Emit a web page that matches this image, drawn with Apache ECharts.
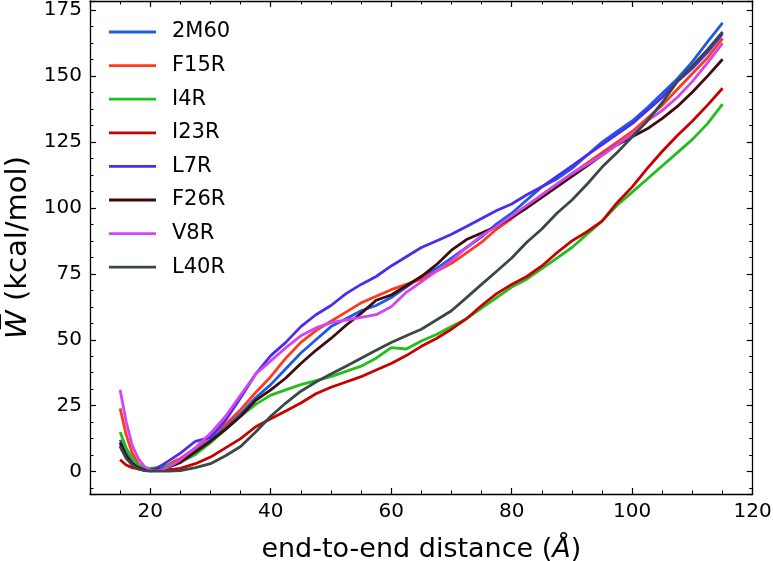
<!DOCTYPE html>
<html>
<head>
<meta charset="utf-8">
<script src="https://cdn.jsdelivr.net/npm/echarts@6/dist/echarts.min.js"></script>
<style>
html,body{margin:0;padding:0;background:#fff;}
#chart{width:773px;height:561px;}
</style>
</head>
<body>
<div id="chart"></div>
<script>
// shared x grid (end-to-end distance, Å)
const distance = [15,16,17,18,19,20,21,22,23,24,25,27.5,30,32.5,35,37.5,40,42.5,45,47.5,50,52.5,55,57.5,60,62.5,65,67.5,70,72.5,75,77.5,80,82.5,85,87.5,90,92.5,95,97.5,100,102.5,105,107.5,110,112.5,115];

const seriesNames = ['2M60','F15R','I4R','I23R','L7R','F26R','V8R','L40R'];
const seriesColors = ['#1f5ae2','#ff3b1c','#22bf1c','#c80000','#4b2cf0','#3e0c0c','#d444f4','#3a4848'];

const w2M60 = [12,7,3.5,1.5,0.6,0.5,0.8,1.5,2.5,3.5,4.5,8,12,17,22,28,33,39,45,50,55,58,61,63,66,70,74,77,81,85,89,94,98,103,108,111,115,120,125,129,133,138,143.5,149,155.5,163,170.2];
const wF15R = [24,14,7,3,1,0.3,0.5,1.5,2.5,4,5,9,13.5,18,23.5,30,36,43,49,53.5,57,60.5,64,66.5,69,71,73,76,79,83,87,92,96,100.5,105,109,113,117,121,125,129,134,139,145,151,157,164.3];
const wI4R = [15,9,5,2.5,1.5,1.2,1.5,2,2.5,3,3.5,6.5,11,16,21,25.5,29,31,33,34.5,36,38,40,43,47,46.5,49.5,52,55,58,62,66,70,73,77,81,85,90,95,101,106,111,116,121,126,132,139.4];
const wI23R = [4.5,2.5,1.5,1,0.6,0.5,0.5,0.5,0.7,0.9,1.2,3,5.5,9,12.5,17,20,23,26,29.5,32,34,36,38.5,41,44,47.5,50.5,54,58,63,67.5,71,74,78,83,87.5,91,95,102,108,115,121.5,127.5,133,139,145.4];
const wL7R = [10,6,3,1.5,0.8,0.6,1.2,2.5,4,5.5,7,11.5,13,19.5,28,37,44,49,55,59.5,63,67.5,71,74,78,81.5,85,87.5,90,93,96,99,101.5,105,108,112,116,120,124,128,132,137,142,148,153,159,166];
const wF26R = [11,6,3,1.5,0.6,0.4,0.6,1,1.7,2.5,3.5,7.5,11.5,16,21,27,31,35.5,41,46,50.5,55.5,60,65,67,70.5,74,78.5,84,88,90.5,93,96.5,100,104,108,112,116,120,124,127,130,134,138.5,144,150,156.4];
const wV8R = [31,19,10,5,2,0.5,0.3,0.8,1.8,3,4.5,9,14.5,21,29,37,42,47,51.5,54.5,56.5,57.5,58.5,59.5,62.5,68,72,76,80,85,89.5,93,97,101,105,109,113,116.5,120,124,128,133,137,142,148,155,162.5];
const wL40R = [9.5,5,2.5,1,0.4,0.2,0.2,0.2,0.2,0.3,0.4,1.5,3,6,9.5,15,21,26,30.5,34,37,40,43,46,49,51.5,54,57.5,61,66,71,76,81,87,92,98,103,109,115.5,121,127,133,140,148,154,160,166.8];

const seriesValues = [w2M60,wF15R,wI4R,wI23R,wL7R,wF26R,wV8R,wL40R];

const xTickLabels = [20,40,60,80,100,120];
const yTickLabels = [0,25,50,75,100,125,150,175];

const FONT = 'DejaVu Sans';
const chart = echarts.init(document.getElementById('chart'), null, {renderer:'canvas'});

const tickStyle = {show:true, inside:true, length:6, lineStyle:{color:'#000', width:1.2}};
const minorStyle = {show:true, splitNumber:4, length:3.5, lineStyle:{color:'#000', width:1}};
const lineAx = {show:true, onZero:false, lineStyle:{color:'#000', width:1.3}};

function xAx(pos, main){
  return {
    type:'value', position:pos, min:10, max:120, minInterval:20, maxInterval:20,
    axisLine:lineAx, axisTick:tickStyle, minorTick:minorStyle,
    splitLine:{show:false}, minorSplitLine:{show:false},
    axisLabel: main ? {show:true, color:'#000', fontFamily:FONT, fontSize:20, margin:8,
      showMinLabel:false, showMaxLabel:true,
      formatter: v => xTickLabels.indexOf(v) >= 0 ? String(v) : ''} : {show:false},
    name: main ? '{n|end-to-end distance (}{a|Å}{n|)}' : '',
    nameLocation:'middle', nameGap:42,
    nameTextStyle:{fontFamily:FONT, fontSize:27, color:'#000',
      rich:{n:{fontFamily:FONT, fontSize:27, color:'#000'}, a:{fontFamily:FONT, fontSize:27, fontStyle:'italic', color:'#000'}}}
  };
}
function yAx(pos, main){
  return {
    type:'value', position:pos, min:-8.5, max:178.5, minInterval:25, maxInterval:25,
    axisLine:lineAx, axisTick:tickStyle, minorTick:minorStyle,
    splitLine:{show:false}, minorSplitLine:{show:false},
    axisLabel: main ? {show:true, color:'#000', fontFamily:FONT, fontSize:20, margin:8,
      showMinLabel:false, showMaxLabel:false,
      formatter: v => yTickLabels.indexOf(v) >= 0 ? String(v) : ''} : {show:false},
    name: main ? '{w|W\u0305}{n| (kcal/mol)}' : '',
    nameLocation:'middle', nameGap:57, nameRotate:90,
    nameTextStyle:{fontFamily:FONT, fontSize:29, color:'#000',
      rich:{w:{fontFamily:FONT, fontSize:29, fontStyle:'italic', color:'#000'}, n:{fontFamily:FONT, fontSize:29, color:'#000'}}}
  };
}

const series = seriesNames.map((name,i)=>({
  name:name, type:'line', xAxisIndex:0, yAxisIndex:0,
  data: distance.map((x,j)=>[x, seriesValues[i][j]]),
  symbol:'none', smooth:false, animation:false,
  lineStyle:{width:2.8, color:seriesColors[i]}, itemStyle:{color:seriesColors[i]}
}));

chart.setOption({
  animation:false,
  backgroundColor:'#fff',
  grid:{left:90, right:20.3, top:1, bottom:67, containLabel:false, outerBoundsMode:'none'},
  xAxis:[xAx('bottom',true), xAx('top',false)],
  yAxis:[yAx('left',true), yAx('right',false)],
  legend:{
    show:true, orient:'vertical', left:109, top:21.5, padding:0,
    itemWidth:47, itemHeight:20, itemGap:12.6,
    icon:'path://M0,0 L47,0 L47,2.8 L0,2.8 Z',
    data:seriesNames,
    formatter: name => '{t|' + name + '}',
    textStyle:{fontFamily:FONT, fontSize:21, color:'#000',
      rich:{t:{fontFamily:FONT, fontSize:21, color:'#000', lineHeight:20, padding:[0,0,0,11]}}}
  },
  series:series
});
</script>
</body>
</html>
